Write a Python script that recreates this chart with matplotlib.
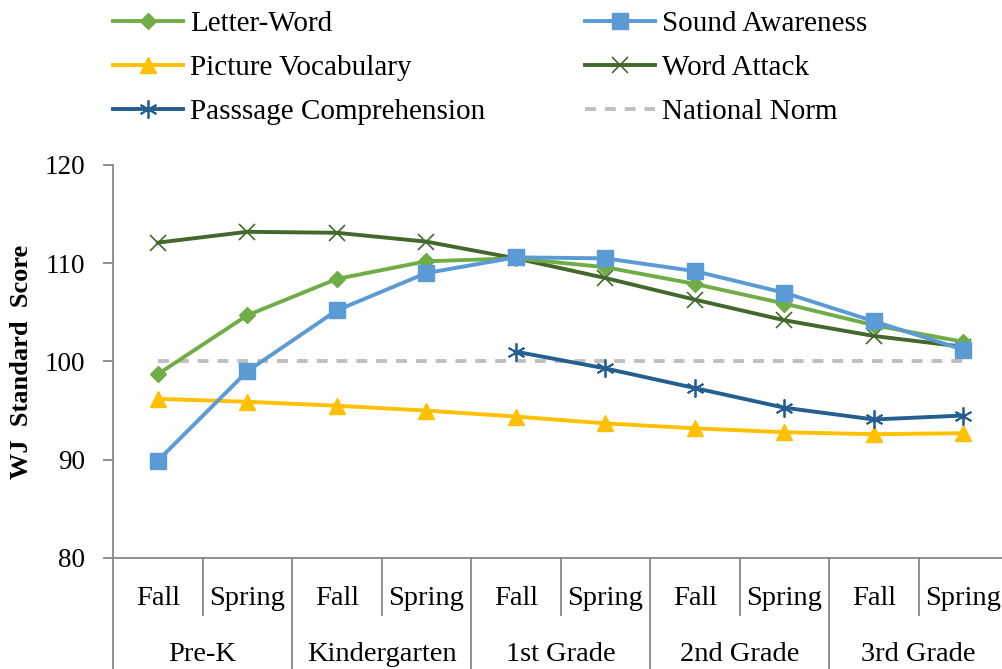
import matplotlib.pyplot as plt
import matplotlib.transforms as mtransforms

plt.rcParams['font.family'] = ['Liberation Serif', 'DejaVu Serif']

# Datos
temporadas = ["Fall", "Spring"] * 5
grados = ["Pre-K", "Kindergarten", "1st Grade", "2nd Grade", "3rd Grade"]

letter_word = [98.7, 104.7, 108.4, 110.2, 110.5, 109.6, 107.9, 105.9, 103.7, 102.0]
sound_awareness = [89.9, 99.0, 105.2, 109.0, 110.6, 110.5, 109.2, 107.0, 104.1, 101.2]
picture_vocab = [96.2, 95.9, 95.5, 95.0, 94.4, 93.7, 93.2, 92.8, 92.6, 92.7]
word_attack = [112.1, 113.2, 113.1, 112.2, 110.5, 108.5, 106.3, 104.2, 102.6, 101.5]
passage_comp = [None, None, None, None, 101.0, 99.3, 97.3, 95.3, 94.1, 94.5]
national_norm = [100] * 10

W, H = 1003, 669
fig = plt.figure(figsize=(W / 100, H / 100), dpi=100)
# el area de datos se sale un poco por la derecha, como en el original
ax = fig.add_axes([113 / W, 1 - 558 / H, 895 / W, 393 / H])

x = list(range(len(temporadas)))
pc_x = [i for i, v in zip(x, passage_comp) if v is not None]
pc_y = [v for v in passage_comp if v is not None]

lw = 2.8
ax.plot(x, national_norm, color="#BFBFBF", lw=lw, dashes=(2.8, 2.3),
        label="National Norm", zorder=1)
ax.plot(x, picture_vocab, color="#FFC000", lw=lw, marker="^", ms=11,
        label="Picture Vocabulary", zorder=2)
ax.plot(pc_x, pc_y, color="#255E91", lw=lw, marker=(6, 2, 0), ms=13,
        mew=1.3, label="Passsage Comprehension", zorder=3)
ax.plot(x, word_attack, color="#43682B", lw=lw, marker="x", ms=11,
        mew=1.2, label="Word Attack", zorder=4)
ax.plot(x, letter_word, color="#70AD47", lw=lw, marker="D", ms=8.5,
        label="Letter-Word", zorder=5)
ax.plot(x, sound_awareness, color="#5B9BD5", lw=lw, marker="s", ms=11,
        label="Sound Awareness", zorder=6)

ax.set_xlim(-0.5, 9.5)
ax.set_ylim(80, 120)
ax.set_yticks([80, 90, 100, 110, 120])
ax.set_xticks([])
ax.tick_params(axis="y", direction="out", length=7, width=1.3,
               color="#878787", labelsize=19.5, pad=13)
for s in ["top", "right"]:
    ax.spines[s].set_visible(False)
for s in ["left", "bottom"]:
    ax.spines[s].set_color("#878787")
    ax.spines[s].set_linewidth(1.3)

ax.set_ylabel("WJ  Standard  Score", fontsize=19, fontweight="bold")
ax.yaxis.set_label_coords(-80 / 895, 0.5)

# Eje x de dos niveles
trans = mtransforms.blended_transform_factory(ax.transData, ax.transAxes)
for i, t in enumerate(temporadas):
    ax.text(i, -0.102, t, transform=trans, ha="center", va="center",
            fontsize=20.5)
for g, nombre in enumerate(grados):
    ax.text(2 * g + 0.5, -0.245, nombre, transform=trans, ha="center",
            va="center", fontsize=20.5)
for k in range(11):
    xs = k - 0.5
    y_fin = -0.145 if k % 2 == 1 else -0.3
    ax.plot([xs, xs], [0, y_fin], transform=trans, color="#878787",
            lw=1.3, clip_on=False)

# Leyenda en dos columnas, colocada a mano
handles, labels = ax.get_legend_handles_labels()
por_nombre = dict(zip(labels, handles))
col1 = ["Letter-Word", "Picture Vocabulary", "Passsage Comprehension"]
col2 = ["Sound Awareness", "Word Attack", "National Norm"]
for nombres, x0 in [(col1, 113), (col2, 585)]:
    fig.legend([por_nombre[n] for n in nombres], nombres,
               loc="upper left", bbox_to_anchor=(x0 / W, 1 - 11 / H),
               frameon=False, fontsize=21, handlelength=2.4,
               handletextpad=0.25, labelspacing=0.6, borderaxespad=0,
               borderpad=0)

fig.savefig("out.png", dpi=100)
